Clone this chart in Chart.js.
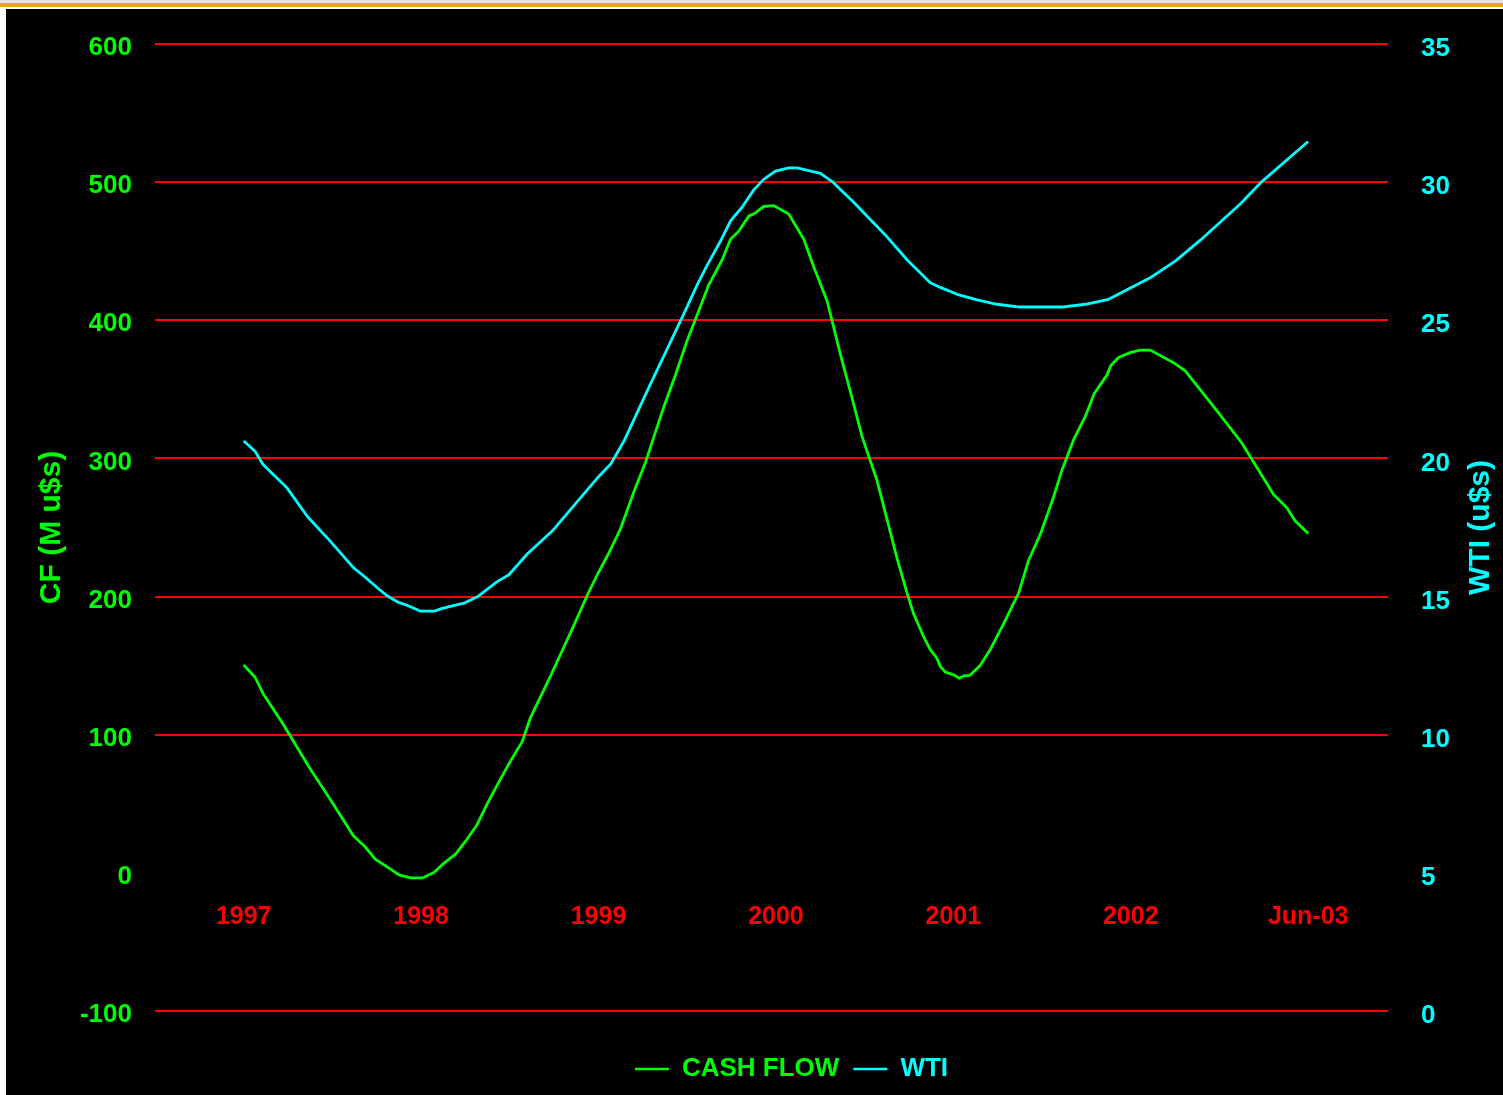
<!DOCTYPE html>
<html>
<head>
<meta charset="utf-8">
<title>Cash Flow vs WTI</title>
<script src="https://cdn.jsdelivr.net/npm/chart.js@4.4.1/dist/chart.umd.min.js"></script>
<style>
  html, body { margin: 0; padding: 0; background: #ffffff; }
  body { width: 1503px; height: 1095px; position: relative; overflow: hidden; }
  #topStrip { position: absolute; left: 0; top: 0; width: 1503px; height: 3px; background: #e4e4e4; }
  #topBand { position: absolute; left: 0; top: 3px; width: 1503px; height: 4px; background: #e8a030; }
  #frame { position: absolute; left: 6px; top: 9px; width: 1497px; height: 1086px; background: #000000; }
  canvas { display: block; }
</style>
</head>
<body>
<div id="topStrip"></div>
<div id="topBand"></div>
<div id="frame"><canvas id="chart" width="1497" height="1086"></canvas></div>
<script>
// Position along the time axis: 0 = 1997 label, 6 = Jun-03 label (one unit per label step)
const tickPositions = [0, 1, 2, 3, 4, 5, 6];
const tickLabels = ['1997', '1998', '1999', '2000', '2001', '2002', 'Jun-03'];

// Cash flow, M u$s
const cfPos = [0, 0.064, 0.109, 0.227, 0.368, 0.49, 0.618, 0.687, 0.744, 0.81, 0.875, 0.941, 1.007, 1.072, 1.119, 1.194,
  1.251, 1.317, 1.373, 1.438, 1.504, 1.57, 1.617, 1.73, 1.861, 1.936, 1.993, 2.058, 2.124, 2.199, 2.265, 2.368,
  2.434, 2.5, 2.556, 2.621, 2.697, 2.744, 2.79, 2.847, 2.885, 2.931, 2.988, 3.072, 3.157, 3.213, 3.289, 3.363,
  3.429, 3.486, 3.57, 3.683, 3.739, 3.776, 3.833, 3.87, 3.908, 3.927, 3.955, 4.002, 4.034, 4.058, 4.092, 4.152,
  4.208, 4.283, 4.368, 4.425, 4.49, 4.565, 4.612, 4.678, 4.744, 4.794, 4.866, 4.888, 4.931, 4.997, 5.054, 5.11,
  5.241, 5.307, 5.495, 5.627, 5.805, 5.88, 5.927, 6.0];
const cfVal = [150.5, 141.6, 129.9, 106.7, 76.7, 52.8, 26.8, 18.5, 9.6, 4.2, -1.4, -3.7, -3.7, 0.2, 5.9, 13.5,
  22.9, 35.2, 50.1, 65.7, 81, 95, 112.6, 142.6, 179.2, 200.8, 215.8, 231.4, 249.1, 275.7, 297.3, 337.3,
  360.6, 385.5, 403.8, 425.5, 443.8, 458.7, 464.4, 475.4, 477.7, 482.4, 483, 477, 458.7, 438.8, 413.8, 375.5,
  343.9, 315.6, 284, 227.5, 202.5, 187.5, 170.9, 161.6, 155.2, 149.3, 145.3, 143.3, 140.9, 142.6, 142.9, 150.2,
  161.6, 180.2, 202.5, 226.5, 245, 272.1, 291.5, 313.6, 330.4, 347, 360.3, 367.3, 373, 376.6, 378.4, 378.4,
  369.3, 363.4, 333, 311, 273.9, 264.3, 254.7, 245.7];

// WTI crude price, u$s
const wtiPos = [0, 0.064, 0.109, 0.242, 0.359, 0.49, 0.618, 0.687, 0.753, 0.81, 0.866, 0.931, 0.997, 1.072, 1.119, 1.241,
  1.317, 1.429, 1.495, 1.598, 1.739, 1.861, 1.993, 2.068, 2.143, 2.293, 2.368, 2.49, 2.556, 2.612, 2.687, 2.744,
  2.81, 2.875, 2.931, 2.997, 3.072, 3.119, 3.251, 3.317, 3.438, 3.626, 3.739, 3.87, 3.927, 4.021, 4.134, 4.246,
  4.377, 4.612, 4.744, 4.875, 5.11, 5.251, 5.392, 5.617, 5.739, 6.0];
const wtiVal = [20.63, 20.26, 19.78, 18.95, 17.9, 16.99, 16.05, 15.69, 15.32, 15.02, 14.81, 14.66, 14.47, 14.47, 14.57, 14.76,
  14.99, 15.54, 15.79, 16.54, 17.37, 18.29, 19.29, 19.79, 20.62, 22.7, 23.7, 25.36, 26.28, 26.99, 27.86, 28.6,
  29.1, 29.72, 30.1, 30.4, 30.52, 30.52, 30.32, 30.02, 29.27, 28.02, 27.19, 26.36, 26.19, 25.94, 25.74, 25.58,
  25.48, 25.48, 25.58, 25.76, 26.54, 27.14, 27.9, 29.21, 30.02, 31.47];

const GREEN = '#00ff00';
const CYAN = '#00ffff';
const RED = '#ff0000';
const FAMILY = '"Liberation Sans", Arial, sans-serif';

Chart.defaults.font.family = FAMILY;
Chart.defaults.font.weight = 'bold';

const toPoints = (xs, ys) => xs.map((x, i) => ({ x: x, y: ys[i] }));

// fixed axis thickness, and no extra room reserved for half tick labels
const fixSize = (w, h) => (axis) => {
  if (w !== null) axis.width = w;
  if (h !== null) axis.height = h;
  axis.paddingTop = 0;
  axis.paddingBottom = 0;
};

// moves the bottom legend after layout
const legendShift = {
  id: 'legendShift',
  afterLayout(chart, args, opts) {
    const lg = chart.legend;
    if (lg) {
      lg.left += opts.dx; lg.right += opts.dx;
      lg.top += opts.dy; lg.bottom += opts.dy;
    }
  }
};

// right-hand axis title, written bottom-to-top like the left one
const rightTitle = {
  id: 'rightTitle',
  afterDraw(chart, args, opts) {
    const { ctx, chartArea } = chart;
    ctx.save();
    ctx.translate(opts.x, (chartArea.top + chartArea.bottom) / 2);
    ctx.rotate(-Math.PI / 2);
    ctx.font = 'bold 30px ' + FAMILY;
    ctx.fillStyle = opts.color;
    ctx.textAlign = 'center';
    ctx.textBaseline = 'middle';
    ctx.fillText(opts.text, 0, 0);
    ctx.restore();
  }
};

new Chart(document.getElementById('chart'), {
  type: 'line',
  data: {
    datasets: [
      {
        label: 'CASH FLOW',
        data: toPoints(cfPos, cfVal),
        yAxisID: 'y',
        borderColor: GREEN,
        backgroundColor: GREEN,
        borderWidth: 2.8,
        pointRadius: 0,
        tension: 0,
        borderJoinStyle: 'round'
      },
      {
        label: 'WTI',
        data: toPoints(wtiPos, wtiVal),
        yAxisID: 'y1',
        borderColor: CYAN,
        backgroundColor: CYAN,
        borderWidth: 2.8,
        pointRadius: 0,
        tension: 0,
        borderJoinStyle: 'round'
      }
    ]
  },
  plugins: [legendShift, rightTitle],
  options: {
    responsive: false,
    animation: false,
    events: [],
    layout: { padding: { top: 35, left: 0, right: 0, bottom: 34 } },
    scales: {
      x: {
        type: 'linear',
        min: -0.5,
        max: 6.45,
        position: { y: 0 },
        afterBuildTicks: (axis) => { axis.ticks = tickPositions.map(v => ({ value: v })); },
        afterFit: fixSize(null, 0),
        grid: { display: false, drawTicks: false },
        border: { display: false },
        ticks: {
          color: RED,
          font: { size: 25, weight: 'bold' },
          padding: 29,
          maxRotation: 0,
          autoSkip: false,
          callback: (value) => {
            const i = tickPositions.indexOf(value);
            return i >= 0 ? tickLabels[i] : '';
          }
        }
      },
      y: {
        position: 'left',
        min: -100,
        max: 600,
        afterFit: fixSize(149, null),
        grid: {
          color: (ctx) => (ctx.tick && ctx.tick.value === 0 ? 'rgba(0,0,0,0)' : RED),
          lineWidth: 2,
          drawTicks: false
        },
        border: { display: false },
        ticks: {
          stepSize: 100,
          color: GREEN,
          font: { size: 26, weight: 'bold' },
          padding: 23,
          labelOffset: 4
        },
        title: {
          display: true,
          text: 'CF (M u$s)',
          color: GREEN,
          font: { size: 30, weight: 'bold' },
          padding: { top: 28, bottom: 0 }
        }
      },
      y1: {
        position: 'right',
        min: 0,
        max: 35,
        afterFit: fixSize(115, null),
        grid: { display: false, drawTicks: false },
        border: { display: false },
        ticks: {
          stepSize: 5,
          color: CYAN,
          font: { size: 26, weight: 'bold' },
          padding: 33,
          labelOffset: 5
        },
        title: { display: false }
      }
    },
    plugins: {
      legendShift: { dx: 37, dy: 31 },
      rightTitle: { text: 'WTI (u$s)', color: CYAN, x: 1475 },
      tooltip: { enabled: false },
      legend: {
        display: true,
        position: 'bottom',
        labels: {
          usePointStyle: true,
          pointStyleWidth: 34,
          padding: 14,
          font: { size: 26, weight: 'bold' },
          generateLabels: (chart) => {
            const items = Chart.defaults.plugins.legend.labels.generateLabels(chart);
            items.forEach((it) => {
              const ds = chart.data.datasets[it.datasetIndex];
              it.pointStyle = 'line';
              it.strokeStyle = ds.borderColor;
              it.fillStyle = ds.borderColor;
              it.fontColor = ds.borderColor;
              it.lineWidth = 2.5;
            });
            return items;
          }
        }
      }
    }
  }
});
</script>
</body>
</html>
